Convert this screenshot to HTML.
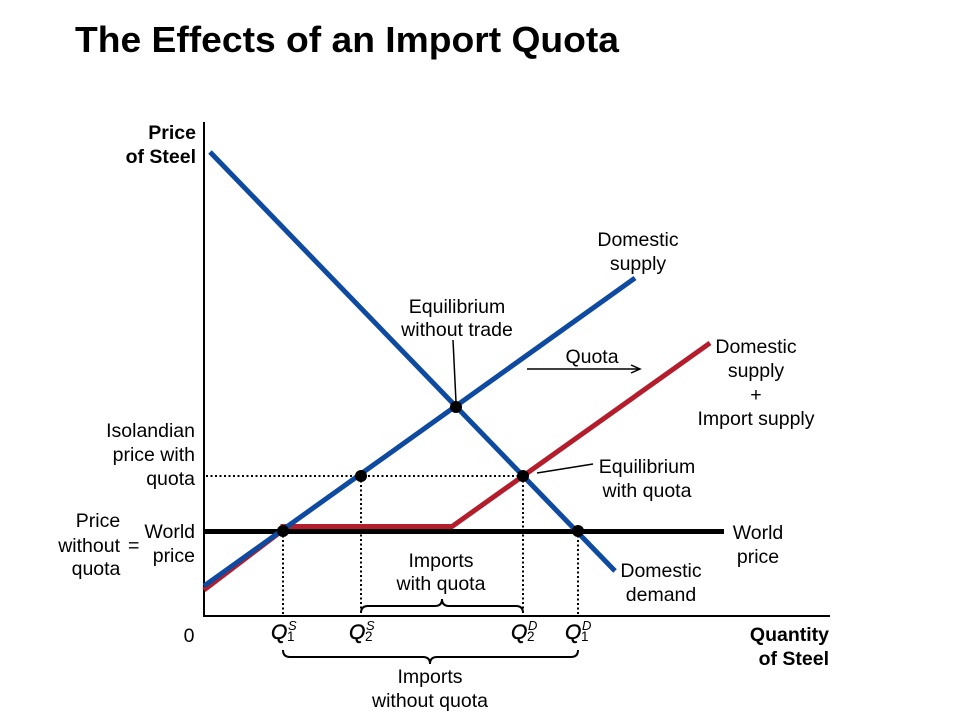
<!DOCTYPE html>
<html><head><meta charset="utf-8"><style>
html,body{margin:0;padding:0;background:#fff;}
svg{display:block;}
text{font-family:"Liberation Sans",Arial,sans-serif;fill:#000;}
</style></head><body>
<svg width="960" height="720" viewBox="0 0 960 720" xmlns="http://www.w3.org/2000/svg">
<rect width="960" height="720" fill="#fff"/>
<text x="75" y="52" font-size="36" font-weight="bold" textLength="544" lengthAdjust="spacingAndGlyphs">The Effects of an Import Quota</text>

<!-- axes -->
<line x1="204" y1="122" x2="204" y2="616" stroke="#000" stroke-width="2"/>
<line x1="203" y1="616" x2="830" y2="616" stroke="#000" stroke-width="2"/>

<!-- dotted guides -->
<g stroke="#000" stroke-width="2" stroke-dasharray="2,2.5" fill="none">
<line x1="206" y1="476" x2="523" y2="476"/>
<line x1="283" y1="531" x2="283" y2="615"/>
<line x1="361" y1="476" x2="361" y2="615"/>
<line x1="523" y1="476" x2="523" y2="615"/>
<line x1="578" y1="531" x2="578" y2="615"/>
</g>

<!-- world price -->
<line x1="204" y1="531.5" x2="724" y2="531.5" stroke="#000" stroke-width="5"/>

<!-- red: domestic + import supply -->
<polyline points="204,590 283,530 283,526.5 452,526.5 710,343" fill="none" stroke="#b41e2c" stroke-width="5" stroke-linejoin="miter"/>

<!-- blue: demand and supply -->
<line x1="210" y1="152" x2="615" y2="571" stroke="#0d4aa0" stroke-width="5"/>
<line x1="204" y1="586" x2="635" y2="278" stroke="#0d4aa0" stroke-width="5"/>

<!-- points -->
<g fill="#000">
<circle cx="283" cy="531" r="6"/>
<circle cx="361" cy="476" r="6"/>
<circle cx="456" cy="407" r="6"/>
<circle cx="523" cy="476" r="6"/>
<circle cx="578" cy="531" r="6"/>
</g>

<!-- leader lines -->
<line x1="453" y1="340" x2="456" y2="402" stroke="#000" stroke-width="1.5"/>
<line x1="537" y1="473" x2="593" y2="464" stroke="#000" stroke-width="1.5"/>

<!-- quota arrow -->
<line x1="527" y1="369" x2="639" y2="369" stroke="#000" stroke-width="1.5"/>
<polyline points="631,365 640,369 631,373" fill="none" stroke="#000" stroke-width="1.5"/>

<!-- braces -->
<path d="M361,613 Q361,606 368,606 L435,606 Q442,606 442,599 Q442,606 449,606 L516,606 Q523,606 523,613" fill="none" stroke="#000" stroke-width="2"/>
<path d="M283,650 Q283,657 290,657 L423,657 Q430,657 430,664 Q430,657 437,657 L571,657 Q578,657 578,650" fill="none" stroke="#000" stroke-width="2"/>

<!-- axis labels -->
<g font-size="19.5" font-weight="bold" text-anchor="end">
<text x="196" y="139">Price</text>
<text x="196" y="163">of Steel</text>
<text x="829" y="641">Quantity</text>
<text x="829" y="665">of Steel</text>
</g>

<g font-size="19.5">
<text x="189" y="642" text-anchor="middle">0</text>

<g text-anchor="middle">
<text x="638" y="246">Domestic</text>
<text x="638" y="270">supply</text>
<text x="457" y="313">Equilibrium</text>
<text x="457" y="336">without trade</text>
<text x="592" y="363">Quota</text>
<text x="756" y="353">Domestic</text>
<text x="756" y="377">supply</text>
<text x="756" y="401">+</text>
<text x="756" y="425">Import supply</text>
<text x="647" y="473">Equilibrium</text>
<text x="647" y="497">with quota</text>
<text x="758" y="539">World</text>
<text x="758" y="563">price</text>
<text x="661" y="577">Domestic</text>
<text x="661" y="601">demand</text>
<text x="441" y="567">Imports</text>
<text x="441" y="590">with quota</text>
<text x="430" y="683">Imports</text>
<text x="430" y="707">without quota</text>
<text x="98" y="527">Price</text>
<text x="96" y="575">quota</text>
</g>

<g text-anchor="end">
<text x="195" y="437">Isolandian</text>
<text x="195" y="461">price with</text>
<text x="195" y="485">quota</text>
<text x="195" y="538">World</text>
<text x="195" y="562">price</text>
<text x="120" y="552">without</text>
</g>
<text x="128" y="552">=</text>
</g>

<!-- Q labels -->
<g>
<text x="271" y="639" font-size="21" font-style="italic" stroke="#000" stroke-width="0.4">Q</text>
<text x="287" y="641" font-size="13.5">1</text>
<text x="288" y="630" font-size="13" font-style="italic">S</text>

<text x="349" y="639" font-size="21" font-style="italic" stroke="#000" stroke-width="0.4">Q</text>
<text x="365" y="641" font-size="13.5">2</text>
<text x="366" y="630" font-size="13" font-style="italic">S</text>

<text x="511" y="639" font-size="21" font-style="italic" stroke="#000" stroke-width="0.4">Q</text>
<text x="527" y="641" font-size="13.5">2</text>
<text x="528" y="630" font-size="13" font-style="italic">D</text>

<text x="565" y="639" font-size="21" font-style="italic" stroke="#000" stroke-width="0.4">Q</text>
<text x="581" y="641" font-size="13.5">1</text>
<text x="582" y="630" font-size="13" font-style="italic">D</text>
</g>
</svg>
</body></html>
